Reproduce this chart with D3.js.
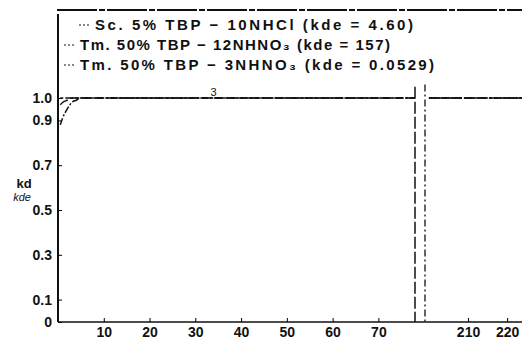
<!DOCTYPE html>
<html lang="en">
    <head>
        <meta charset="utf-8">
        <title>kd / kde</title>
        <script type="text/javascript" src="https://d3js.org/d3.v7.min.js"></script>
        <style type="text/css">
          body{ margin:0; background:#fff; }
          svg{ width:522px; height:339px; display:block; }
          text{ font-family:"Liberation Sans", Arial, sans-serif; fill:#111; }
        </style>
    </head>
    <body>
      <svg></svg>

        <script type="text/javascript">

        // data
        const seriesNames = ["Sc. 5% TBP \u2212 10NHCl   (kde = 4.60)",
                             "Tm. 50% TBP \u2212 12NHNO\u2083 (kde = 157)",
                             "Tm. 50% TBP \u2212 3NHNO\u2083 (kde = 0.0529)"];
        const xLeft  = [0.5, 1, 2, 3, 4, 5, 10, 20, 30, 40, 50, 60, 70, 78];
        const scLeft = [0.88, 0.91, 0.95, 0.98, 0.99, 1.0, 1.0, 1.0, 1.0, 1.0, 1.0, 1.0, 1.0, 1.0];
        const tm12Left = [0.97, 0.98, 0.99, 1.0, 1.0, 1.0, 1.0, 1.0, 1.0, 1.0, 1.0, 1.0, 1.0, 1.0];
        const tm3Left  = [1.0, 1.0, 1.0, 1.0, 1.0, 1.0, 1.0, 1.0, 1.0, 1.0, 1.0, 1.0, 1.0, 1.0];
        const xRight = [200, 205, 210, 215, 220, 223.8];
        const scRight   = [1.0, 1.0, 1.0, 1.0, 1.0, 1.0];
        const tm12Right = [1.0, 1.0, 1.0, 1.0, 1.0, 1.0];
        const tm3Right  = [1.0, 1.0, 1.0, 1.0, 1.0, 1.0];
        const xTicksLeft  = [10, 20, 30, 40, 50, 60, 70];
        const xTicksRight = [210, 220];
        const yTicks = [0, 0.1, 0.3, 0.5, 0.7, 0.9, 1.0];

        const svg = d3.select("svg");

        // broken x axis: two linear pieces
        const xL = d3.scaleLinear().domain([0, 78]).range([58, 415]);
        const xR = d3.scaleLinear().domain([199, 223.8]).range([425, 522]);
        const y  = d3.scaleLinear().domain([0, 1.0]).range([322, 98]);

        const dashes = ["7,2,2,2", "9,3", "3,2,8,2"];
        const left  = [scLeft, tm12Left, tm3Left];
        const right = [scRight, tm12Right, tm3Right];

        //frame top line and y axis line
        svg.append("line")
           .attr("x1", 57).attr("x2", 522).attr("y1", 10).attr("y2", 10)
           .attr("stroke", "#111").attr("stroke-width", 2)
           .attr("stroke-dasharray", "40,2,6,2");

        svg.append("line")
           .attr("x1", 58).attr("x2", 58).attr("y1", 14).attr("y2", y(0))
           .attr("stroke", "#111").attr("stroke-width", 2);

        // y axis
        const yAxis = d3.axisLeft(y).tickValues(yTicks)
                        .tickFormat(d => d === 0 ? "0" : d3.format(".1f")(d))
                        .tickSizeInner(-4).tickSizeOuter(0).tickPadding(6);
        const gy = svg.append("g").attr("transform", "translate(58,0)").call(yAxis);
        gy.select(".domain").remove();
        gy.selectAll("text").style("font-size", "14px").style("font-weight", "bold");

        // x axis pieces
        svg.append("line")
           .attr("x1", 58).attr("x2", 522).attr("y1", y(0)).attr("y2", y(0))
           .attr("stroke", "#111").attr("stroke-width", 1.5);
        [[xL, xTicksLeft], [xR, xTicksRight]].forEach(([sc, tv]) => {
          const g = svg.append("g").attr("transform", "translate(0,322)")
                       .call(d3.axisBottom(sc).tickValues(tv)
                               .tickSizeInner(-4).tickSizeOuter(0).tickPadding(5));
          g.select(".domain").remove();
          g.selectAll("text").style("font-size", "14px").style("font-weight", "bold");
        });

        // axis break marks
        svg.append("line")
           .attr("x1", xL(78)).attr("x2", xL(78)).attr("y1", y(1.05)).attr("y2", y(0))
           .attr("stroke", "#111").attr("stroke-width", 1.5).attr("stroke-dasharray", "12,3");
        svg.append("line")
           .attr("x1", xR(199)).attr("x2", xR(199)).attr("y1", y(1.06)).attr("y2", y(0))
           .attr("stroke", "#111").attr("stroke-width", 1.3).attr("stroke-dasharray", "7,3,2,3");

        // series
        left.forEach((vals, i) => {
          const line = d3.line().x((d, j) => xL(xLeft[j])).y(d => y(d)).curve(d3.curveMonotoneX);
          svg.append("path").datum(vals)
             .attr("d", line).attr("fill", "none")
             .attr("stroke", "#111").attr("stroke-width", 1.5)
             .attr("stroke-dasharray", dashes[i]);
        });
        right.forEach((vals, i) => {
          const line = d3.line().x((d, j) => xR(xRight[j])).y(d => y(d));
          svg.append("path").datum(vals)
             .attr("d", line).attr("fill", "none")
             .attr("stroke", "#111").attr("stroke-width", 1.5)
             .attr("stroke-dasharray", dashes[i]);
        });

        // curve number mark
        svg.append("text").attr("x", xL(34)).attr("y", y(1.0) - 2)
           .attr("text-anchor", "middle").style("font-size", "11px").text("3");

        // legend
        const legendX = [95, 80, 80];
        const legendW = [318, 310, 354];
        seriesNames.forEach((name, i) => {
          const ly = 30 + i * 20;
          svg.append("line")
             .attr("x1", legendX[i] - 16).attr("x2", legendX[i] - 6)
             .attr("y1", ly - 5).attr("y2", ly - 5)
             .attr("stroke", "#111").attr("stroke-width", 1.2)
             .attr("stroke-dasharray", "2,2");
          svg.append("text").attr("x", legendX[i]).attr("y", ly)
             .attr("textLength", legendW[i]).attr("lengthAdjust", "spacing")
             .style("font-size", "15px").style("font-weight", "bold")
             .text(name);
        });

        // y axis title kd / kde
        svg.append("text").attr("x", 24).attr("y", 188).attr("text-anchor", "middle")
           .style("font-size", "13px").style("font-weight", "bold").text("kd");
        svg.append("text").attr("x", 22).attr("y", 201).attr("text-anchor", "middle")
           .style("font-size", "11px").style("font-style", "italic").text("kde");
    </script>
</body>
</html>
